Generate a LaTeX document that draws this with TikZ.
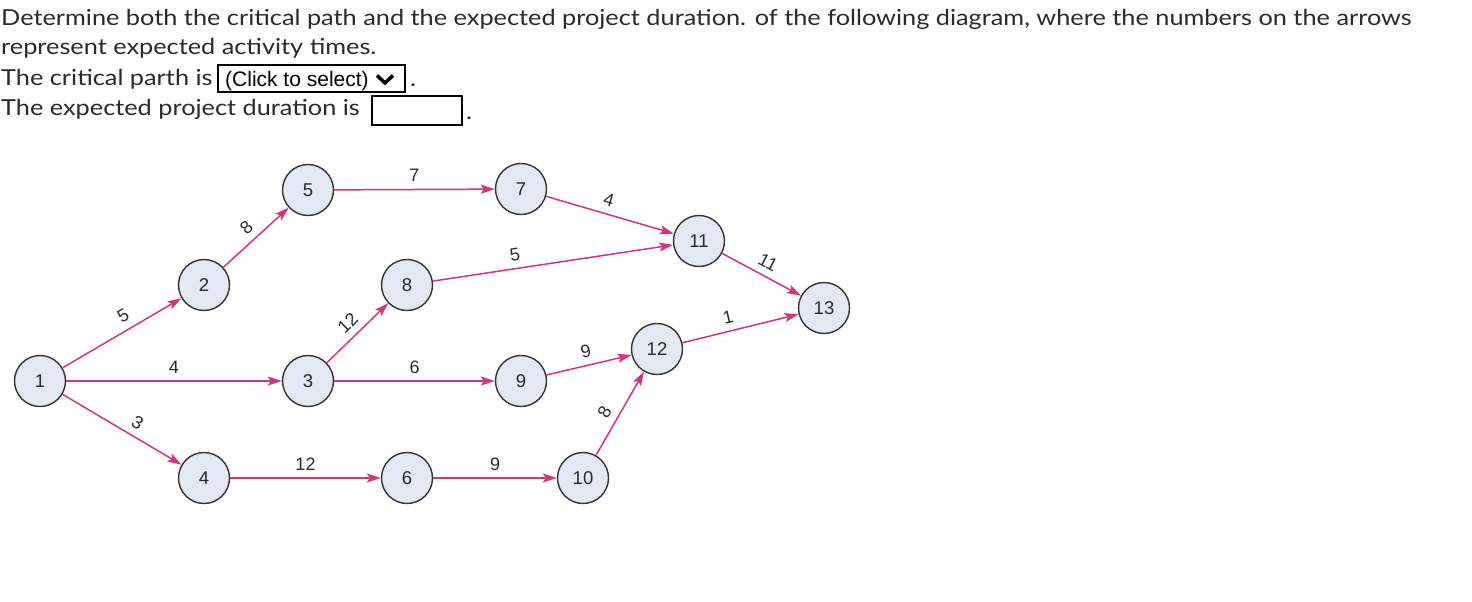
\documentclass[tikz,border=0pt]{standalone}
\usepackage{fontspec}
\setmainfont{Lato}[FakeStretch=1.15]
\newfontfamily\arialf{Liberation Sans}
\usetikzlibrary{arrows.meta}
\definecolor{edgec}{HTML}{D6337F}
\definecolor{nodefill}{HTML}{E3E8F2}
\definecolor{nodeline}{HTML}{333333}
\definecolor{txt}{HTML}{2A2A2A}
\begin{document}
\begin{tikzpicture}[x=1pt,y=-1pt,
 evt/.style={circle,draw=nodeline,line width=1.4pt,fill=nodefill,minimum size=51pt,inner sep=0pt,font=\arialf\fontsize{18.5}{18.5}\selectfont,text=txt},
 act/.style={draw=edgec,line width=1.5pt,-{Stealth[length=14pt,width=9pt,inset=3pt]}},
 lab/.style={sloped,above=5pt,font=\arialf\fontsize{18}{18}\selectfont,text=txt,inner sep=2pt},
 qline/.style={anchor=base west,inner sep=0pt,font=\fontsize{22}{30}\selectfont,text=txt},
 field/.style={draw=black,line width=2pt,anchor=north west,inner sep=0pt}]
\useasboundingbox (0,0) rectangle (1472,602);
% question text
\node[qline] (q1) at (1,26) {Determine both the critical path and the expected project duration. of the following diagram, where the numbers on the arrows};
\node[qline] (q2) at (1,55) {represent expected activity times.};
\node[qline] (q3) at (1,85) {The critical parth is};
\node[field,minimum width=187pt,minimum height=27pt] (sel) at (217,64) {};
\node[anchor=base west,inner sep=0pt,font=\arialf\fontsize{21}{21}\selectfont,text=black] (seltext) at (225,86) {(Click to select)};
\coordinate (cva) at (377,75.5);
\coordinate (cvb) at (385,83);
\coordinate (cvc) at (393,75.5);
\draw[line width=3.5pt,black] (cva) -- (cvb) -- (cvc);
\node[qline] (dot1) at (410,86) {.};
\node[qline] (q4) at (1,115) {The expected project duration is};
\node[field,minimum width=90pt,minimum height=29pt] (inp) at (371,95) {};
\node[qline] (dot2) at (466,119) {.};
% events
\node[evt] (n1) at (40,381) {1};
\node[evt] (n2) at (204,285) {2};
\node[evt] (n3) at (308,381) {3};
\node[evt] (n4) at (204,478) {4};
\node[evt] (n5) at (308,190) {5};
\node[evt] (n6) at (407,478) {6};
\node[evt] (n7) at (521,189) {7};
\node[evt] (n8) at (407,285) {8};
\node[evt] (n9) at (521,381) {9};
\node[evt] (n10) at (583,478) {10};
\node[evt] (n11) at (699,241) {11};
\node[evt] (n12) at (657,349) {12};
\node[evt] (n13) at (824,308) {13};
% activities
\draw[act] (n1) -- node[lab,pos=.57] {5} (n2);
\draw[act] (n1) -- node[lab] {4} (n3);
\draw[act] (n1) -- node[lab,pos=.57] {3} (n4);
\draw[act] (n2) -- node[lab] {8} (n5);
\draw[act] (n5) -- node[lab] {7} (n7);
\draw[act] (n3) -- node[lab] {12} (n8);
\draw[act] (n3) -- node[lab] {6} (n9);
\draw[act] (n4) -- node[lab] {12} (n6);
\draw[act] (n6) -- node[lab] {9} (n10);
\draw[act] (n7) -- node[lab,pos=.46] {4} (n11);
\draw[act] (n8) -- node[lab,pos=.35] {5} (n11);
\draw[act] (n9) -- node[lab] {9} (n12);
\draw[act] (n10) -- node[lab,pos=.43] {8} (n12);
\draw[act] (n11) -- node[lab] {11} (n13);
\draw[act] (n12) -- node[lab,pos=.42] {1} (n13);
\end{tikzpicture}
\end{document}
